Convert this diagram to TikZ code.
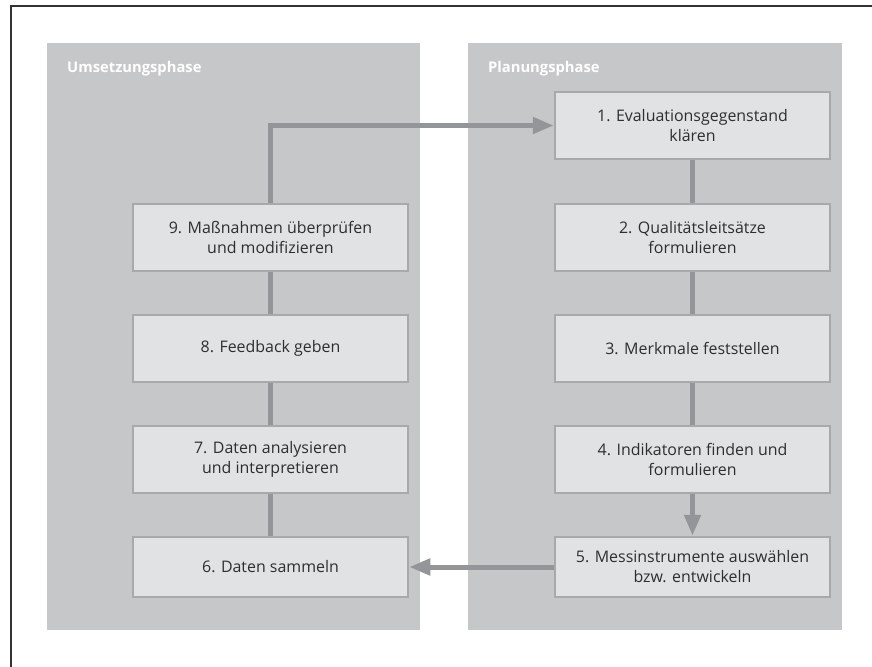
\documentclass[tikz,border=0pt]{standalone}
\usepackage{fontspec}
\setmainfont{Open Sans}
\usetikzlibrary{arrows.meta}
\definecolor{framecol}{HTML}{333333}
\definecolor{panelcol}{HTML}{C6C7C9}
\definecolor{boxfill}{HTML}{E1E2E4}
\definecolor{boxline}{HTML}{A8A9AB}
\definecolor{conncol}{HTML}{949599}
\definecolor{textcol}{HTML}{2E2E2E}
\tikzset{
  phase/.style={fill=panelcol},
  phaselabel/.style={anchor=base west, text=white, font=\fontsize{14.8}{17}\selectfont\bfseries, inner sep=0pt},
  stepbox/.style={draw=boxline, line width=2.5bp, fill=boxfill, minimum width=275bp, minimum height=67bp,
    align=center, text=textcol, font=\fontsize{16}{20}\selectfont, inner sep=0pt},
  shortbox/.style={stepbox, minimum height=60bp},
  conn/.style={draw=conncol, line width=5bp},
  arr/.style={conn, -{Triangle[length=21bp, width=16bp]}}
}
\begin{document}
\begin{tikzpicture}[x=1bp, y=-1bp]
\useasboundingbox (0,0) rectangle (872,667);
\fill[white] (0,0) rectangle (872,667);
% frame lines
\draw[framecol, line width=1.5bp] (11,667) -- (11,6) -- (872,6);
% phase panels
\fill[phase] (47,43) rectangle (420,630);
\fill[phase] (468,43) rectangle (842,630);
\node[phaselabel] (lblU) at (67,73) {Umsetzungsphase};
\node[phaselabel] (lblP) at (488,73) {Planungsphase};
% planning steps
\node[stepbox] (b1) at (692.5,125.5) {1. Evaluationsgegenstand\\klären};
\node[stepbox] (b2) at (692.5,237.5) {2. Qualitätsleitsätze\\formulieren};
\node[stepbox] (b3) at (692.5,348.5) {3. Merkmale feststellen};
\node[stepbox] (b4) at (692.5,459.5) {4. Indikatoren finden und\\formulieren};
\node[shortbox] (b5) at (692.5,567) {5. Messinstrumente auswählen\\bzw. entwickeln};
% implementation steps
\node[shortbox] (b6) at (270.5,567) {6. Daten sammeln};
\node[stepbox] (b7) at (270.5,459.5) {7. Daten analysieren\\und interpretieren};
\node[stepbox] (b8) at (270.5,348.5) {8. Feedback geben};
\node[stepbox] (b9) at (270.5,237.5) {9. Maßnahmen überprüfen\\und modifizieren};
% connectors
\draw[conn] (b1) -- (b2);
\draw[conn] (b2) -- (b3);
\draw[conn] (b3) -- (b4);
\draw[arr] (b4.south) -- (b5.north);
\draw[arr] (b5.west) -- (b6.east);
\draw[conn] (b6) -- (b7);
\draw[conn] (b7) -- (b8);
\draw[conn] (b8) -- (b9);
\draw[arr] (b9.north) |- (b1.west);
\end{tikzpicture}
\end{document}
